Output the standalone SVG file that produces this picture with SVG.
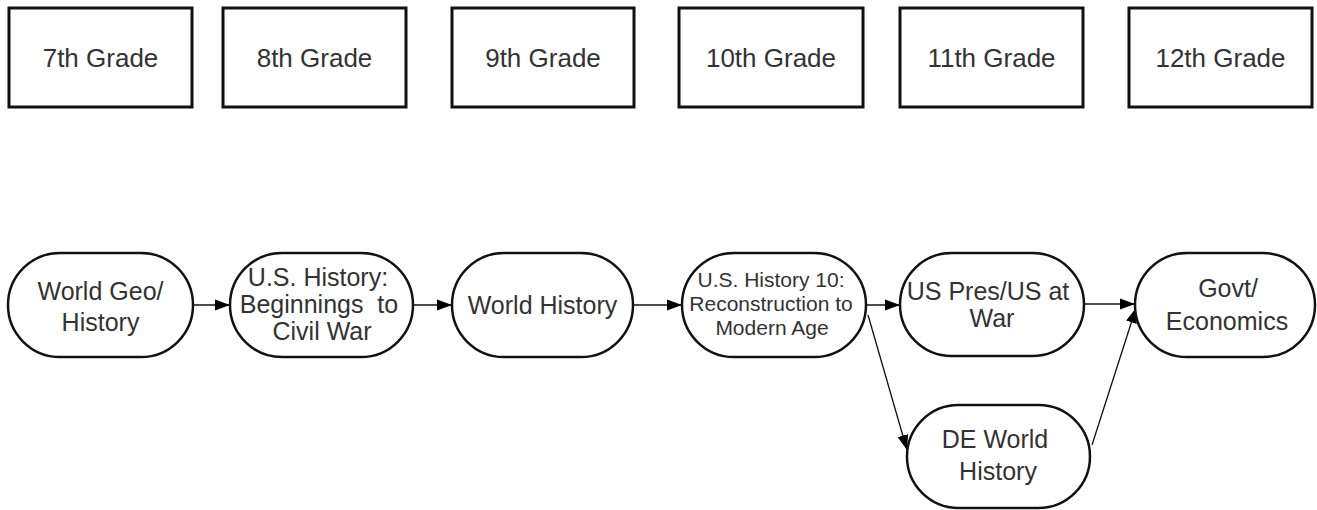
<svg xmlns="http://www.w3.org/2000/svg" width="1317" height="510" viewBox="0 0 1317 510">
<defs>
<marker id="arr" markerUnits="userSpaceOnUse" markerWidth="16" markerHeight="12" refX="15" refY="6" orient="auto">
<path d="M0,0.5 L15,6 L0,11.5 Z" fill="#000"/>
</marker>
<style>
.box{fill:#fff;stroke:#111;stroke-width:3}
.ov{fill:#fff;stroke:#111;stroke-width:2.5}
.t{font-family:"Liberation Sans",Arial,sans-serif;font-size:25px;fill:#333;text-anchor:middle}
.g{font-size:26px}
.s{font-size:21px}
.c{stroke:#111;stroke-width:1.3;fill:none;marker-end:url(#arr)}
</style>
</defs>
<rect width="1317" height="510" fill="#fff"/>
<g id="grade7"><rect class="box" x="9" y="8" width="183" height="99"/><text class="t g" x="100.5" y="67">7th Grade</text></g>
<g id="grade8"><rect class="box" x="223" y="8" width="183" height="99"/><text class="t g" x="314.5" y="67">8th Grade</text></g>
<g id="grade9"><rect class="box" x="452" y="8" width="182" height="99"/><text class="t g" x="543" y="67">9th Grade</text></g>
<g id="grade10"><rect class="box" x="679" y="8" width="184" height="99"/><text class="t g" x="771" y="67">10th Grade</text></g>
<g id="grade11"><rect class="box" x="900" y="8" width="183" height="99"/><text class="t g" x="991.5" y="67">11th Grade</text></g>
<g id="grade12"><rect class="box" x="1129" y="8" width="183" height="99"/><text class="t g" x="1220.5" y="67">12th Grade</text></g>

<g id="connectors">
<path class="c" d="M193 305 L230 305"/>
<path class="c" d="M413 305 L452 305"/>
<path class="c" d="M633 305 L682 305"/>
<path class="c" d="M866 305 L900 305"/>
<path class="c" d="M1084 304 L1135 304"/>
<path class="c" d="M868 315 L907 450"/>
<path class="c" d="M1092 445 L1136 308"/>
</g>

<g id="worldgeo"><rect class="ov" x="8" y="253" width="185" height="104" rx="52" ry="52"/><text class="t" x="100.5" y="300">World Geo/</text><text class="t" x="100.5" y="331">History</text></g>
<g id="ushistory"><rect class="ov" x="230" y="253" width="183" height="104" rx="52" ry="52"/><text class="t" x="318" y="286">U.S. History:</text><text class="t" x="319" y="313" xml:space="preserve">Beginnings  to</text><text class="t" x="322" y="340">Civil War</text></g>
<g id="worldhistory"><rect class="ov" x="452" y="253" width="181" height="104" rx="52" ry="52"/><text class="t" x="542.5" y="314">World History</text></g>
<g id="ushistory10"><rect class="ov" x="682" y="253" width="184" height="104" rx="52" ry="52"/><text class="t s" x="771" y="287">U.S. History 10:</text><text class="t s" x="771" y="311">Reconstruction to</text><text class="t s" x="772" y="335">Modern Age</text></g>
<g id="uspres"><rect class="ov" x="900" y="253" width="184" height="103" rx="51.5" ry="51.5"/><text class="t" x="988" y="300">US Pres/US at</text><text class="t" x="992" y="327">War</text></g>
<g id="govt"><rect class="ov" x="1135" y="253" width="180" height="104" rx="52" ry="52"/><text class="t" x="1228" y="297">Govt/</text><text class="t" x="1227" y="330">Economics</text></g>
<g id="deworld"><rect class="ov" x="907" y="405" width="183" height="103" rx="51.5" ry="51.5"/><text class="t" x="995" y="448">DE World</text><text class="t" x="998" y="480">History</text></g>
</svg>
